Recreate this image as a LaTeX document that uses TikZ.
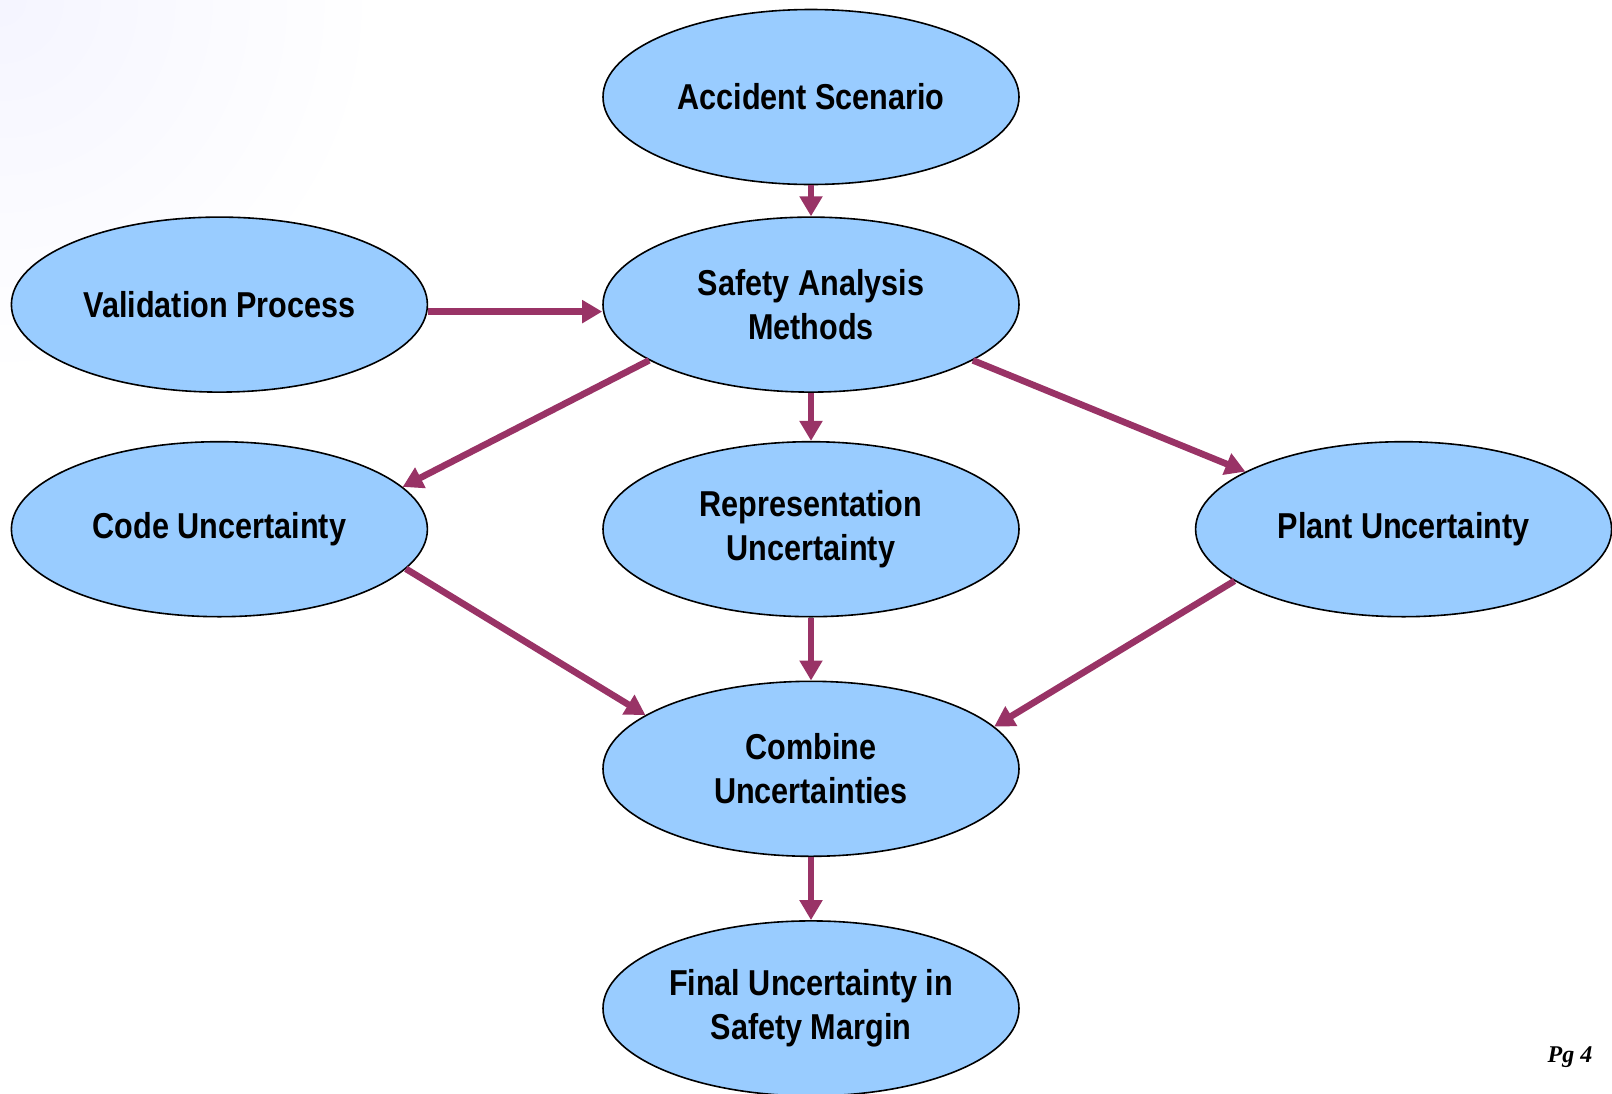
\documentclass[tikz,border=0pt]{standalone}
\usepackage{fontspec}
\newfontfamily\nodefont[FakeStretch=0.85]{Liberation Sans}
\newfontfamily\pagefont{Liberation Serif}
\usetikzlibrary{positioning,shapes.geometric,arrows.meta}
\definecolor{ellfill}{HTML}{99CCFF}
\definecolor{flowred}{HTML}{993366}

\begin{document}
\begin{tikzpicture}[x=0.5pt,y=-0.5pt,
	enode/.style={ellipse,draw=black,line width=0.8pt,fill=ellfill,minimum width=208pt,minimum height=87.5pt,inner sep=0pt,align=center,font=\nodefont\bfseries\fontsize{18}{22}\selectfont},
	flow/.style={draw=flowred,line width=3.3pt,-{Triangle[length=10pt,width=11pt]}}]
		\useasboundingbox (0,0) rectangle (1612,1093);
		\shade[inner color=blue!4,outer color=white] (0,0) circle (380);
		\fill[white] (380,0) rectangle (1612,1093);
		\node[enode] (accident) at (811,97) {Accident Scenario};
		\node[enode] (safety) [below = 15.5pt of accident] {Safety Analysis\\Methods};
		\node[enode] (valid) [left = 87pt of safety] {Validation Process};
		\node[enode] (repr) [below = 24pt of safety] {Representation\\Uncertainty};
		\node[enode] (code) [left = 87pt of repr] {Code Uncertainty};
		\node[enode] (plant) [right = 87.5pt of repr] {Plant Uncertainty};
		\node[enode] (combine) [below = 31.5pt of repr] {Combine\\Uncertainties};
		\node[enode] (final) [below = 31.5pt of combine] {Final Uncertainty in\\Safety Margin};
		\node[font=\pagefont\bfseries\itshape\fontsize{12}{14}\selectfont] (pg) at (1570,1057) {Pg 4};
		\draw[flow] (accident.south) -- (safety.north);
		\draw[flow] ([yshift=-3.5pt]valid.east) -- ([yshift=-3.5pt]safety.west);
		\draw[flow] (safety.199) -- (code.13);
		\draw[flow] (safety.south) -- (repr.north);
		\draw[flow] (safety.341) -- (plant.160);
		\draw[flow] (code.348) -- (combine.162);
		\draw[flow] (repr.south) -- (combine.north);
		\draw[flow] (plant.197) -- (combine.13);
		\draw[flow] (combine.south) -- (final.north);
	\end{tikzpicture}
\end{document}
